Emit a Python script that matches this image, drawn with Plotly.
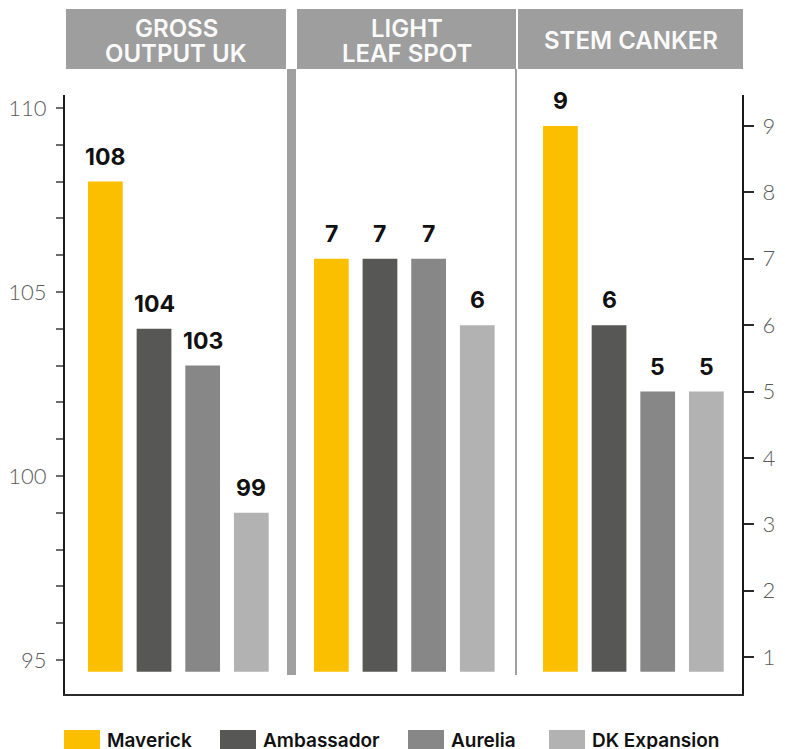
import plotly.graph_objects as go

# ---------------- data ----------------
varieties = ["Maverick", "Ambassador", "Aurelia", "DK Expansion"]
panel_titles = ["GROSS<br>OUTPUT UK", "LIGHT<br>LEAF SPOT", "STEM CANKER"]
gross_output = [108, 104, 103, 99]
light_leaf_spot = [7, 7, 7, 6]
stem_canker = [9, 6, 5, 5]
left_ticks = [95, 100, 105, 110]
right_ticks = [1, 2, 3, 4, 5, 6, 7, 8, 9]

# ---------------- style ----------------
colors = ["#FBBF00", "#575756", "#878787", "#B2B2B2"]
FONT = "Inter"
W, H = 785, 749
ML, MR, MT, MB = 65, 43, 95, 55
PW, PH = W - ML - MR, H - MT - MB


def px_x(x):
    return (x - ML) / PW


def px_y(y):
    return (H - MB - y) / PH


fig = go.Figure()

panels = [
    (gross_output, "x", "y", 94.68),
    (light_leaf_spot, "x2", "y2", 0.78),
    (stem_canker, "x3", "y2", 0.78),
]
for vals, xa, ya, base in panels:
    fig.add_trace(go.Bar(
        x=varieties, y=[v - base for v in vals], base=base,
        marker=dict(color=colors, line=dict(width=0)),
        width=0.714, xaxis=xa, yaxis=ya, showlegend=False,
        hoverinfo="skip",
    ))
    for cat, v in zip(varieties, vals):
        fig.add_annotation(
            x=cat, y=v, xref=xa, yref=ya, text=f"<b>{v}</b>",
            showarrow=False, yanchor="bottom", yshift=9,
            font=dict(family=FONT, size=23, color="#111111"),
        )

xranges = [[-0.830, 3.809], [-0.836, 3.803], [-0.906, 3.733]]
doms = [[0, 1 / 3], [1 / 3, 2 / 3], [2 / 3, 1]]
for i, (rng, dom) in enumerate(zip(xranges, doms)):
    key = "xaxis" if i == 0 else f"xaxis{i + 1}"
    fig.layout[key] = dict(
        domain=dom, range=rng, type="category",
        anchor="y" if i == 0 else "y2",
        showticklabels=False, ticks="", showgrid=False, zeroline=False,
        showline=True, linecolor="#2b2b2b", linewidth=2,
        fixedrange=True,
    )

tickfont = dict(family="Lato", size=22, color="#5a5a5a", weight=300)
fig.update_layout(
    yaxis=dict(
        range=[94.076, 110.353], tickvals=left_ticks, ticks="outside",
        ticklen=7, tickwidth=1.5, tickcolor="#6a6a6a",
        minor=dict(dtick=1, ticks="outside", ticklen=7, tickwidth=1.5,
                   tickcolor="#6a6a6a", showgrid=False),
        showline=True, linecolor="#1a1a1a", linewidth=2,
        showgrid=False, zeroline=False, tickfont=tickfont,
        ticklabelstandoff=5, anchor="x", automargin=False, fixedrange=True,
    ),
    yaxis2=dict(
        range=[0.443, 9.467], tickvals=right_ticks, ticks="outside",
        ticklen=10, tickwidth=1.5, tickcolor="#2b2b2b",
        showline=True, linecolor="#1a1a1a", linewidth=2,
        showgrid=False, zeroline=False, tickfont=tickfont,
        side="right", anchor="x3", ticklabelstandoff=4, automargin=False,
        fixedrange=True,
    ),
)

shapes = []
# header boxes
box_px = [(66, 286), (297, 516), (518, 743)]
line_centers = {1: [40.5], 2: [28, 53.5]}
for (x0, x1), title in zip(box_px, panel_titles):
    shapes.append(dict(type="rect", xref="paper", yref="paper",
                       x0=px_x(x0), x1=px_x(x1), y0=px_y(69), y1=px_y(9),
                       fillcolor="#9E9E9E", line=dict(width=0), layer="below"))
    lines = title.split("<br>")
    for line, cy in zip(lines, line_centers[len(lines)]):
        fig.add_annotation(
            x=px_x((x0 + x1) / 2), y=px_y(cy), xref="paper", yref="paper",
            text=line, showarrow=False, xanchor="center", yanchor="middle",
            font=dict(family=FONT, size=24, color="#FAFAFA", weight=600),
        )
# separators
shapes.append(dict(type="rect", xref="paper", yref="paper",
                   x0=px_x(287), x1=px_x(296), y0=px_y(675), y1=px_y(69),
                   fillcolor="#A0A0A0", line=dict(width=0), layer="below"))
shapes.append(dict(type="rect", xref="paper", yref="paper",
                   x0=px_x(515), x1=px_x(517), y0=px_y(675), y1=px_y(69),
                   fillcolor="#A0A0A0", line=dict(width=0), layer="below"))

# legend (custom wide swatches)
legend_x = [64, 220, 408, 549]
for name, col, lx in zip(varieties, colors, legend_x):
    shapes.append(dict(type="rect", xref="paper", yref="paper",
                       x0=px_x(lx), x1=px_x(lx + 36), y0=px_y(749), y1=px_y(730),
                       fillcolor=col, line=dict(width=0)))
    fig.add_annotation(
        x=px_x(lx + 41), y=px_y(740), xref="paper", yref="paper",
        text=name, showarrow=False, xanchor="left", yanchor="middle",
        font=dict(family=FONT, size=19, color="#111111", weight=600),
    )

fig.update_layout(
    shapes=shapes,
    width=W, height=H,
    margin=dict(l=ML, r=MR, t=MT, b=MB, pad=0, autoexpand=False),
    plot_bgcolor="white", paper_bgcolor="white",
    showlegend=False, bargap=0.286,
)

fig.write_html(
    "out.html",
    config={"displayModeBar": False},
    post_script="document.body.style.margin='0';document.body.style.overflow='hidden';",
)
